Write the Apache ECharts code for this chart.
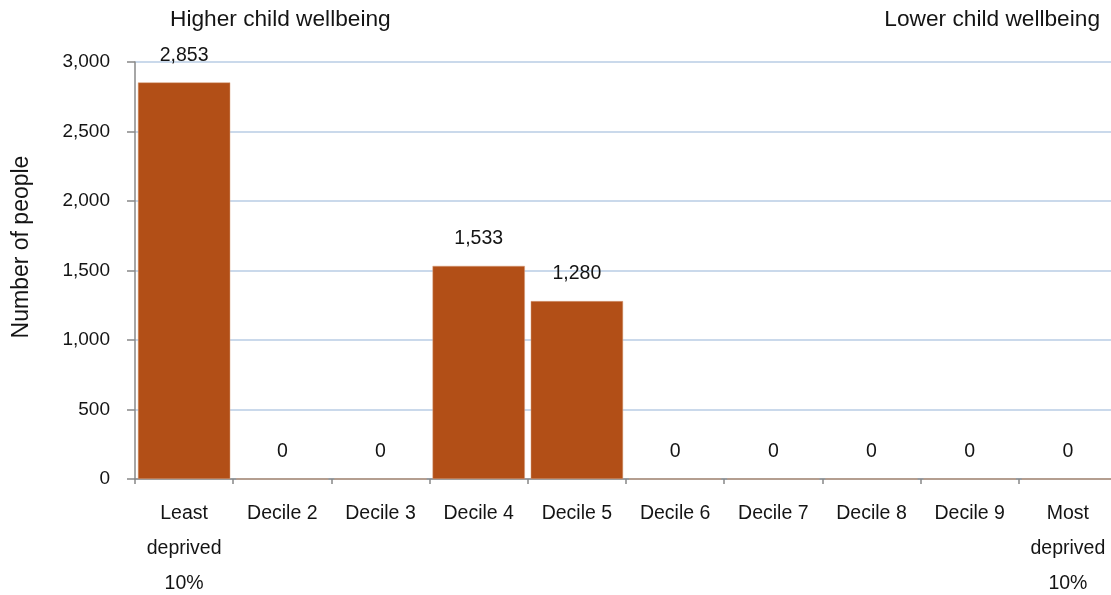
<!DOCTYPE html>
<html><head><meta charset="utf-8">
<script src="https://cdn.jsdelivr.net/npm/echarts@6/dist/echarts.min.js"></script>
<style>html,body{margin:0;padding:0;background:#fff}#c{width:1111px;height:595px}</style>
</head><body><div id="c"></div>
<script>
var categories = ["Least\ndeprived\n10%", "Decile 2", "Decile 3", "Decile 4", "Decile 5", "Decile 6", "Decile 7", "Decile 8", "Decile 9", "Most\ndeprived\n10%"];
var values = [2853, 0, 0, 1533, 1280, 0, 0, 0, 0, 0];
var yTicks = [0, 500, 1000, 1500, 2000, 2500, 3000];
var font = "'Liberation Sans', Arial, sans-serif";
var chart = echarts.init(document.getElementById('c'));
chart.setOption({
  animation: false,
  textStyle: {fontFamily: font},
  graphic: [
    {type: 'text', left: 170, top: 8, style: {text: 'Higher child wellbeing', font: '22.7px ' + font, fill: '#141414'}},
    {type: 'text', right: 11, top: 8, style: {text: 'Lower child wellbeing', font: '22.7px ' + font, fill: '#141414', textAlign: 'right'}},
    {type: 'text', x: 22, y: 247, rotation: Math.PI / 2,
      style: {text: 'Number of people', font: '23px ' + font, fill: '#141414', align: 'center', verticalAlign: 'middle'}}
  ],
  grid: {left: 135, top: 62, width: 982, height: 417, outerBoundsMode: 'none', containLabel: false},
  xAxis: {
    type: 'category', data: categories,
    axisLine: {lineStyle: {color: '#888', width: 1.5}},
    axisTick: {show: true, length: 5, lineStyle: {color: '#888', width: 1.5}},
    axisLabel: {color: '#141414', fontSize: 19.5, lineHeight: 35, margin: 17, fontFamily: font, interval: 0}
  },
  yAxis: {
    type: 'value', min: 0, max: 3000, interval: 500,
    axisLine: {show: true, lineStyle: {color: '#888', width: 1.5}},
    axisTick: {show: true, length: 8, lineStyle: {color: '#888', width: 1.5}},
    axisLabel: {color: '#141414', fontSize: 19, margin: 25, fontFamily: font,
      formatter: function(v){ return yTicks.indexOf(v) >= 0 ? v.toLocaleString('en-US') : ''; }},
    splitLine: {lineStyle: {color: '#b9cde5', width: 1.5}}
  },
  series: [{
    type: 'bar', data: values, barCategoryGap: '6%',
    itemStyle: {color: '#b24f17', borderColor: '#d9a07f', borderWidth: 0.5},
    label: {show: true, position: 'top', distance: 17, fontSize: 19.5, color: '#141414', fontFamily: font,
      formatter: function(p){ return p.value.toLocaleString('en-US'); }}
  }]
});
</script></body></html>
